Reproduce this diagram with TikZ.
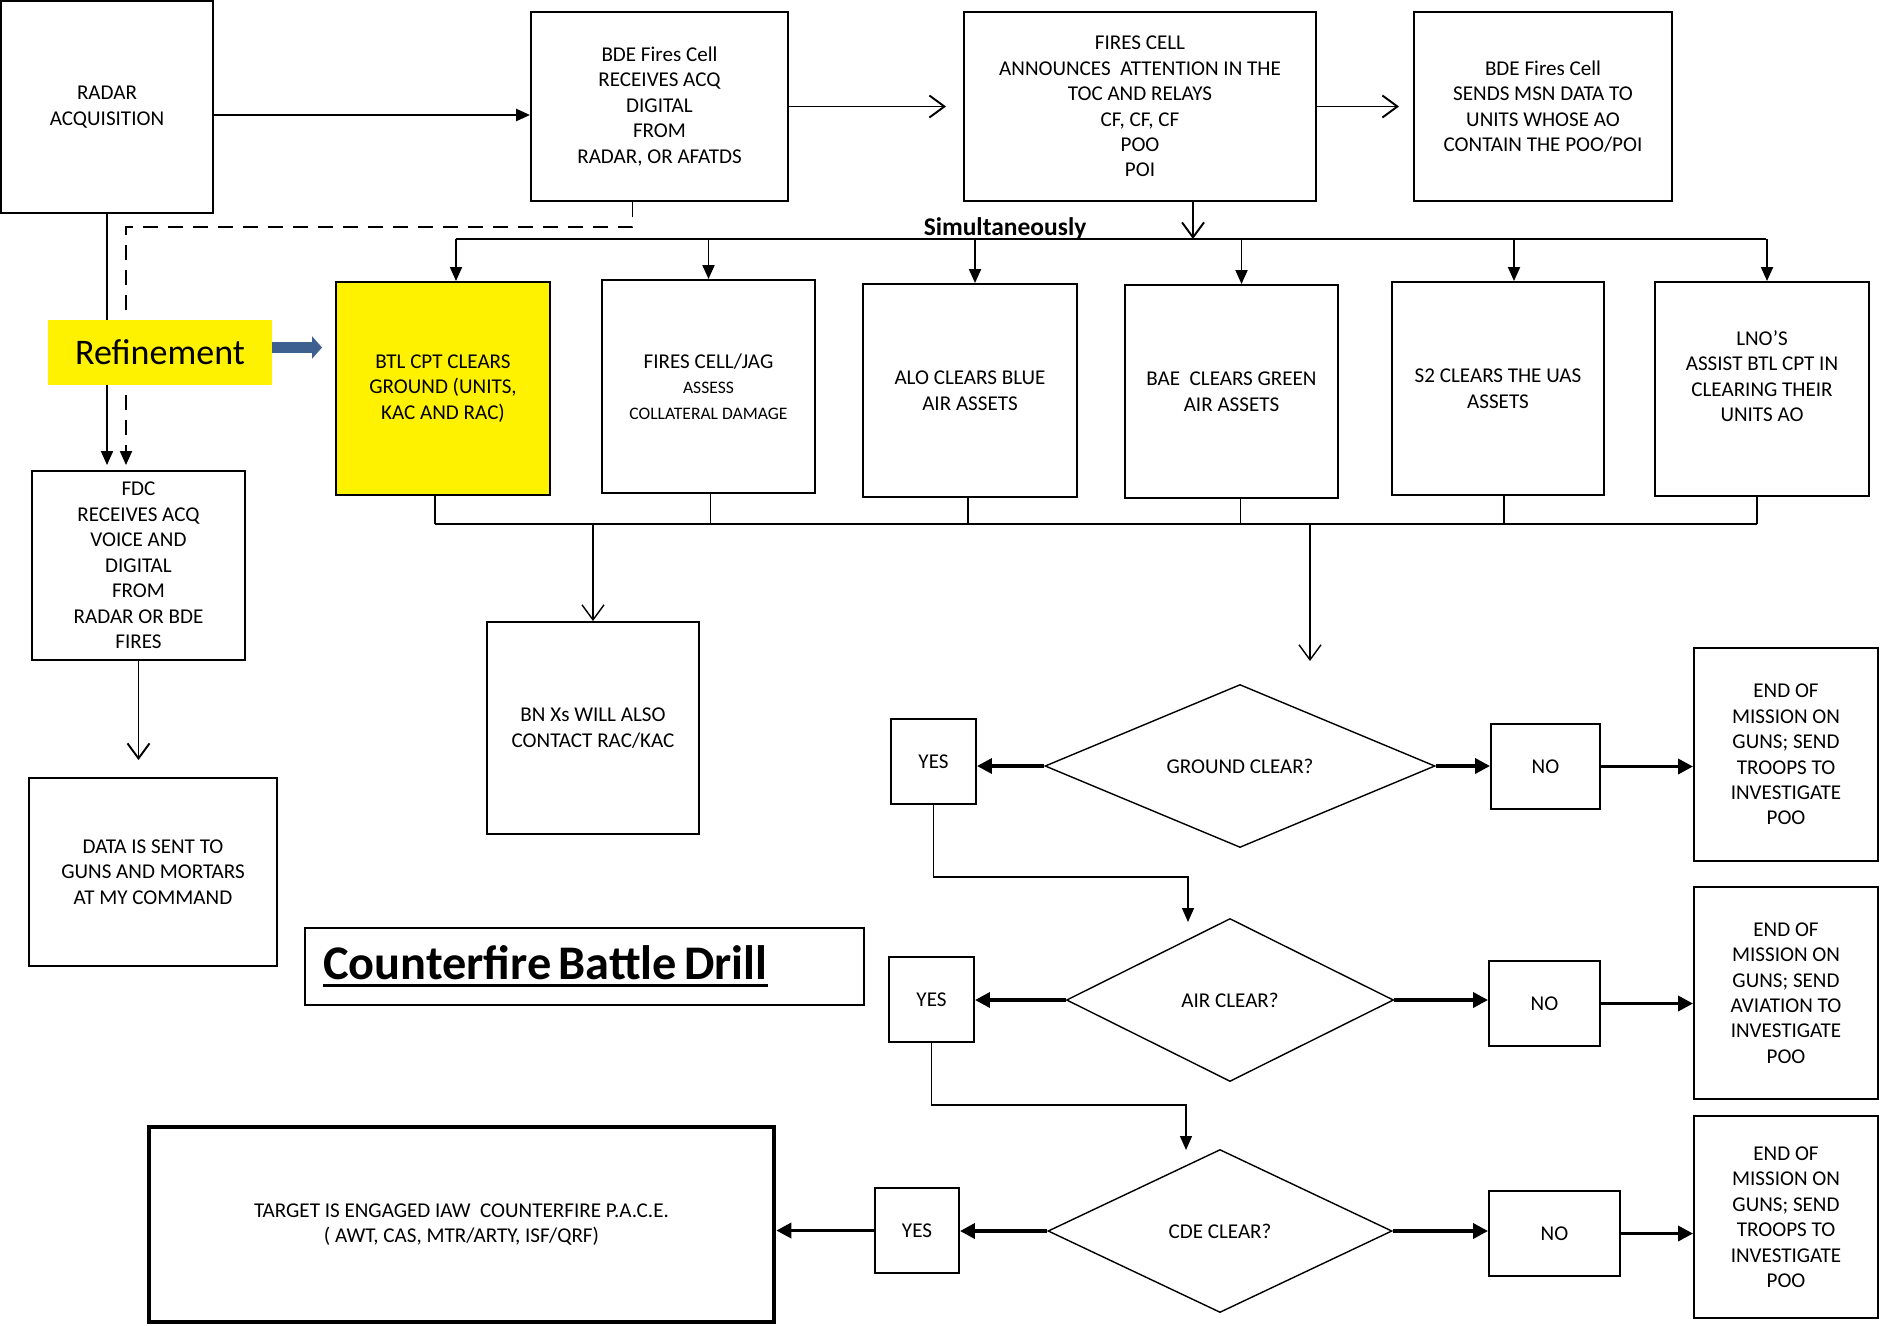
\documentclass[tikz,border=0pt]{standalone}
\usepackage{fontspec}
\setmainfont{Carlito}
\usepackage{xcolor}
\usetikzlibrary{arrows.meta,positioning,shapes.geometric}

\definecolor{refblue}{RGB}{62,96,145}
\def\px{0.02cm}
\newlength\ulwd
\newcommand\thickul[1]{\spaceskip=0.15em\relax\settowidth{\ulwd}{#1}\rlap{#1}\rule[-4.5pt]{\ulwd}{1.7pt}}

\tikzset{
  blk/.style={draw, line width=1.1pt, inner sep=0pt, align=center, font=\fontsize{12}{14.5}\selectfont},
  dec/.style={diamond, draw, line width=0.8pt, inner sep=0pt, aspect=1, font=\fontsize{12}{14.5}\selectfont},
  wh/.style 2 args={minimum width=#1*\px, minimum height=#2*\px},
  arr/.style={line width=1.1pt, -{Triangle[length=0.28cm,width=0.24cm]}},
  barb/.style={line width=1.1pt, -{Straight Barb[length=0.3cm,width=0.44cm]}},
  fat/.style={line width=2pt, -{Triangle[length=0.3cm,width=0.3cm]}},
  link/.style={line width=0.8pt},
}

\begin{document}
\begin{tikzpicture}[x=0.02cm, y=-0.02cm]
    \useasboundingbox (0,0) rectangle (1882,1325);

    % top row
    \node(radar) [blk, wh={212}{212}] at (107,107) {RADAR\\ACQUISITION};
    \node(bdefc) [blk, wh={257}{189}] at (659.5,106.5) {BDE Fires Cell\\RECEIVES ACQ\\DIGITAL\\FROM\\RADAR, OR AFATDS};
    \node(firescell) [blk, wh={352}{189}] at (1140,106.5) {FIRES CELL\\ANNOUNCES\ \ ATTENTION IN THE\\TOC AND RELAYS\\CF, CF, CF\\POO\\POI};
    \node(sendmsn) [blk, wh={258}{189}] at (1543,106.5) {BDE Fires Cell\\SENDS MSN DATA TO\\UNITS WHOSE AO\\CONTAIN THE POO/POI};
    \node(simult) [anchor=base, font=\bfseries\fontsize{14.5}{17}\selectfont] at (1005,235) {Simultaneously};

    % clearing cells
    \node(btl) [blk, fill=yellow, wh={214}{213}] at (443,388.5) {BTL CPT CLEARS\\GROUND (UNITS,\\KAC AND RAC)};
    \node(jag) [blk, wh={213}{213}] at (708.5,386.5) {FIRES CELL/JAG\\\normalsize ASSESS\\\normalsize COLLATERAL DAMAGE};
    \node(alo) [blk, wh={214}{213}] at (970,390.5) {ALO CLEARS BLUE\\AIR ASSETS};
    \node(bae) [blk, wh={213}{213}] at (1231.5,391.5) {BAE\ \ CLEARS GREEN\\AIR ASSETS};
    \node(s2) [blk, wh={212}{213}] at (1498,388.5) {S2 CLEARS THE UAS\\ASSETS};
    \node(lno) [blk, wh={214}{214}] at (1762,389) {LNO’S\\ASSIST BTL CPT IN\\CLEARING THEIR\\UNITS AO\\\mbox{}};

    % left column
    \node(fdc) [blk, wh={213}{189}] at (138.5,565.5) {FDC\\RECEIVES ACQ\\VOICE AND\\DIGITAL\\FROM\\RADAR OR BDE\\FIRES};
    \node(data) [blk, wh={248}{188}] at (153,872) {DATA IS SENT TO\\GUNS AND MORTARS\\AT MY COMMAND};
    \node(bnx) [blk, wh={212}{212}] at (593,728) {BN Xs WILL ALSO\\CONTACT RAC/KAC};
    \node(title) [draw, line width=1.1pt, text width=10.46cm, inner xsep=0.36cm, inner ysep=0pt, minimum height=1.54cm, align=left, font=\bfseries\fontsize{27.5}{32}\selectfont] at (584.5,966.5) {\thickul{Counterfire Battle Drill}};

    % decisions
    \node(ground) [dec, wh={390}{163}] at (1240,766) {GROUND CLEAR?};
    \node(air) [dec, wh={327}{163}] at (1230,1000) {AIR CLEAR?};
    \node(cde) [dec, wh={344}{163}] at (1220,1231) {CDE CLEAR?};
    \node(yes1) [blk, wh={85}{85}] at (933.5,761.5) {YES};
    \node(no1) [blk, wh={109}{85}] at (1545.5,766.5) {NO};
    \node(end1) [blk, wh={184}{213}] at (1786,754.5) {END OF\\MISSION ON\\GUNS; SEND\\TROOPS TO\\INVESTIGATE\\POO};
    \node(yes2) [blk, wh={85}{85}] at (931.5,999.5) {YES};
    \node(no2) [blk, wh={111}{85}] at (1544.5,1003.5) {NO};
    \node(end2) [blk, wh={184}{212}] at (1786,993) {END OF\\MISSION ON\\GUNS; SEND\\AVIATION TO\\INVESTIGATE\\POO};
    \node(yes3) [blk, wh={84}{85}] at (917,1230.5) {YES};
    \node(no3) [blk, wh={131}{85}] at (1554.5,1233.5) {NO};
    \node(end3) [blk, wh={184}{202}] at (1786,1217) {END OF\\MISSION ON\\GUNS; SEND\\TROOPS TO\\INVESTIGATE\\POO};
    \node(target) [blk, line width=2.6pt, wh={625}{195}] at (461.5,1224.5) {TARGET IS ENGAGED IAW\ \ COUNTERFIRE P.A.C.E.\\( AWT, CAS, MTR/ARTY, ISF/QRF)};

    \coordinate(busL) at (456,239);
    \coordinate(busR) at (1766,239);
    \coordinate(lowL) at (435,524);
    \coordinate(lowR) at (1757,524);
    \coordinate(dsh) at (126,227);
    \coordinate(gin) at (1310,661);
    \coordinate(ain) at (1188,922);
    \coordinate(cin) at (1186,1150);

    \draw[arr, line width=1.4pt] ([yshift=-8*\px]radar.east) -- ([yshift=-8*\px]radar.east -| bdefc.west);
    \draw[barb, shorten >=17*\px] (bdefc.east) -- (bdefc.east -| firescell.west);
    \draw[barb, shorten >=14*\px] (firescell.east) -- (firescell.east -| sendmsn.west);
    \draw[barb] ([xshift=53*\px]firescell.south) -- ([xshift=53*\px]firescell.south |- busL);

    % bus to the cells
    \draw[line width=1.1pt] (busL) -- (busR);
    \foreach \n/\dx in {btl/13, jag/0, alo/5, bae/10, s2/16, lno/5}
        \draw[arr] ([xshift=\dx*\px]\n.north |- busL) -- ([xshift=\dx*\px]\n.north);
    \draw[line width=1pt] (lowL) -- (lowR);
    \foreach \n/\dx in {btl/-8, jag/2, alo/-2, bae/9, s2/6, lno/-5}
        \draw[link] ([xshift=\dx*\px]\n.south) -- ([xshift=\dx*\px]\n.south |- lowL);
    \draw[barb, line width=0.8pt] (bnx.north |- lowL) -- (bnx.north);
    \draw[barb, line width=0.8pt] (gin |- lowL) -- (gin);

    % left column, the yellow label covers both lines
    \draw[arr, shorten >=5*\px] (radar.south) -- (radar.south |- fdc.north);
    \draw[arr, dash pattern=on 0.3cm off 0.2cm, shorten >=5*\px] ([xshift=-27*\px]bdefc.south) |- (dsh) -- (dsh |- fdc.north);
    \draw[barb, shorten >=17*\px] (fdc.south) -- (fdc.south |- data.north);
    \node(refine) [fill=yellow, wh={224}{65}, inner sep=0pt, font=\fontsize{20.5}{24}\selectfont] at (160,352.5) {Refinement};
    \draw[refblue, line width=0.22cm, -{Triangle[length=0.2cm,width=0.44cm]}, shorten >=13*\px] ([yshift=5*\px]refine.east) -- ([yshift=5*\px]refine.east -| btl.west);

    % decisions
    \draw[fat] (ground.west) -- (ground.west -| yes1.east);
    \draw[fat] (ground.east) -- (ground.east -| no1.west);
    \draw[fat] (no1.east) -- (no1.east -| end1.west);
    \draw[arr, line width=0.8pt] (yes1.south) -- ++(0,72) -| (ain);
    \draw[fat] (air.west) -- (air.west -| yes2.east);
    \draw[fat] (air.east) -- (air.east -| no2.west);
    \draw[fat] (no2.east) -- (no2.east -| end2.west);
    \draw[arr, line width=0.8pt] (yes2.south) -- ++(0,62) -| (cin);
    \draw[fat] (cde.west) -- (cde.west -| yes3.east);
    \draw[fat] (cde.east) -- (cde.east -| no3.west);
    \draw[fat] (no3.east) -- (no3.east -| end3.west);
    \draw[fat] (yes3.west) -- (yes3.west -| target.east);
\end{tikzpicture}
\end{document}
